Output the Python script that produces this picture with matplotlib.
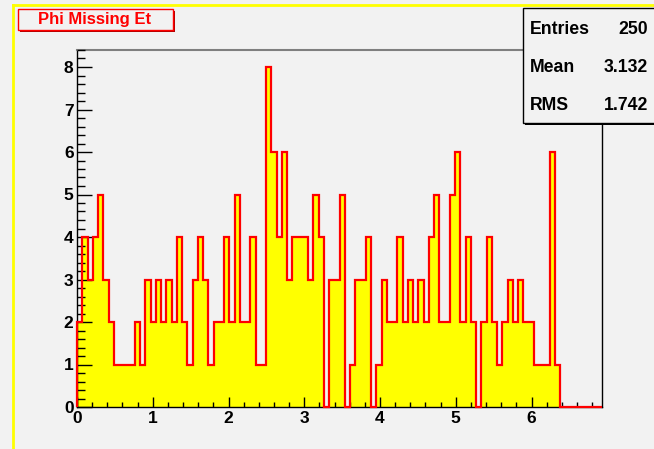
import numpy as np
import matplotlib.pyplot as plt
from matplotlib.patches import Rectangle
from matplotlib.ticker import MultipleLocator

plt.rcParams['font.family'] = ['Liberation Sans', 'DejaVu Sans']
plt.rcParams['font.weight'] = 'bold'

# phi of missing Et, 100 bins
x_min, x_max = 0.0, 6.93
counts = [2, 4, 3, 4, 5, 3, 2, 1, 1, 1,
          1, 2, 1, 3, 2, 3, 2, 3, 2, 4,
          2, 1, 3, 4, 3, 1, 2, 2, 4, 2,
          5, 2, 2, 4, 1, 1, 8, 6, 4, 6,
          3, 4, 4, 4, 3, 5, 4, 0, 3, 3,
          5, 0, 1, 3, 3, 4, 0, 1, 3, 2,
          2, 4, 2, 3, 2, 3, 2, 4, 5, 2,
          2, 5, 6, 2, 4, 2, 0, 2, 4, 2,
          1, 2, 3, 2, 3, 2, 2, 1, 1, 1,
          6, 1, 0, 0, 0, 0, 0, 0, 0, 0]
title = 'Phi Missing Et'
stat_names = ['Entries', 'Mean', 'RMS']
stat_values = ['250', '3.132', '1.742']

W, H = 654, 449
bg = '#f2f2f2'
fig = plt.figure(figsize=(W / 100, H / 100), dpi=100, facecolor=bg)


def fx(px):
    return px / W


def fy(py):
    return 1 - py / H


# pad border
fig.add_artist(plt.Line2D([fx(13), fx(13)], [fy(5), 0], color='yellow', lw=2))
fig.add_artist(plt.Line2D([fx(13), 1], [fy(5), fy(5)], color='yellow', lw=2))

ax = fig.add_axes([fx(77), fy(407), fx(602) - fx(77), fy(50) - fy(407)])
ax.set_facecolor(bg)

edges = np.linspace(x_min, x_max, len(counts) + 1)
ax.stairs(counts, edges, fill=True, color='yellow', zorder=2)
ax.stairs(counts, edges, baseline=0, color='red', lw=1.6, zorder=3, clip_on=False)

ax.set_xlim(x_min, x_max)
ax.set_ylim(0, 1.05 * max(counts))

ax.xaxis.set_major_locator(MultipleLocator(1))
ax.xaxis.set_minor_locator(MultipleLocator(0.2))
ax.yaxis.set_major_locator(MultipleLocator(1))
ax.yaxis.set_minor_locator(MultipleLocator(0.2))
ax.tick_params(axis='x', which='major', direction='in', length=7, width=1,
               pad=3, labelsize=12.5)
ax.tick_params(axis='x', which='minor', direction='in', length=3.6, width=1)
ax.tick_params(axis='y', which='major', direction='in', length=10.8, width=1,
               pad=2.5, labelsize=12.5)
ax.tick_params(axis='y', which='minor', direction='in', length=5.8, width=1)
for t in ax.get_xticklabels() + ax.get_yticklabels():
    t.set_fontweight('bold')
ax.set_axisbelow(False)

for side in ['left', 'bottom', 'right']:
    ax.spines[side].set_color('black')
    ax.spines[side].set_linewidth(1)
ax.spines['top'].set_color('#7f7f7f')
ax.spines['top'].set_linewidth(1.5)

# title box
fig.add_artist(Rectangle((fx(20), fy(32)), fx(173) - fx(18), fy(9) - fy(30),
                         facecolor='#b00000', edgecolor='none'))
fig.add_artist(Rectangle((fx(18), fy(30)), fx(173) - fx(18), fy(9) - fy(30),
                         facecolor=bg, edgecolor='red', lw=1))
fig.text(fx(95), fy(19.5), title, color='red', fontsize=12, fontweight='bold',
         ha='center', va='center')

# stats box
fig.add_artist(Rectangle((fx(525), fy(125)), 1, fy(8) - fy(123),
                         facecolor='black', edgecolor='none'))
fig.add_artist(Rectangle((fx(523), fy(123)), 1, fy(8) - fy(123),
                         facecolor=bg, edgecolor='black', lw=1))
for i, (name, val) in enumerate(zip(stat_names, stat_values)):
    yy = fy(29 + i * 38.5)
    fig.text(fx(530), yy, name, fontsize=12.7, fontweight='bold',
             ha='left', va='center')
    fig.text(fx(648), yy, val, fontsize=12.7, fontweight='bold',
             ha='right', va='center')

fig.savefig('out.png', dpi=100, facecolor=bg)
